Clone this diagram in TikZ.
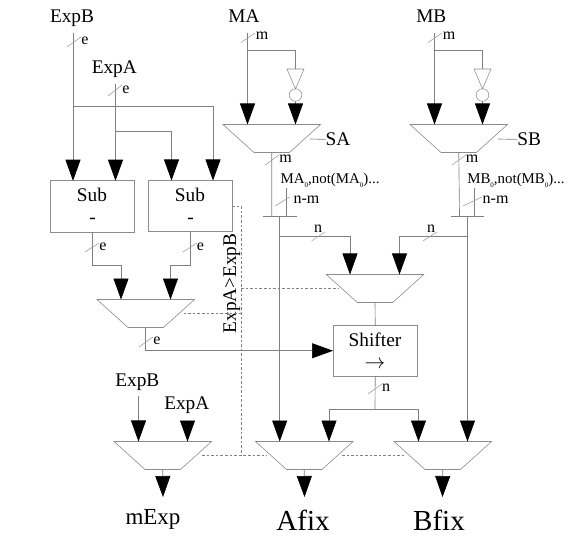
\documentclass[tikz,border=0pt]{standalone}
\usepackage{fontspec}
\setmainfont{Liberation Serif}
\usetikzlibrary{arrows.meta,shapes.geometric}
\newcommand{\fs}[1]{\fontsize{#1}{#1}\selectfont}
\newcommand{\subz}{\raisebox{-4.5pt}{\fs{7}0}}
\tikzset{
  wire/.style={draw=black!50,line width=0.65pt},
  dash wire/.style={draw=black!50,line width=0.6pt,dash pattern=on 2.6pt off 2pt},
  bigarrow/.style={wire,-{Triangle[width=15pt,length=21pt,fill=black,color=black]}},
  tick/.style={draw=black!40,line width=0.55pt},
  muxbox/.style={trapezium,shape border rotate=180,trapezium left angle=48.8,trapezium right angle=48.8,
     trapezium stretches=true,minimum width=97.5pt,minimum height=28pt,inner sep=1pt,outer sep=0pt,draw=black!45,line width=0.6pt},
  blockbox/.style={rectangle,draw=black!45,line width=0.7pt,minimum width=84pt,minimum height=51pt,inner sep=0pt,outer sep=0pt},
  txt/.style={inner sep=0pt,outer sep=0pt,text=black,anchor=base},
  lab/.style={txt,font=\fs{19.3}},
  small/.style={txt,font=\fs{16}},
  note/.style={txt,font=\fs{14.9}},
  big/.style={txt,font=\fs{29}},
  bubble/.style={circle,minimum size=12.5pt,inner sep=0pt,outer sep=0pt,draw=black!45,line width=0.55pt},
  invline/.style={draw=black!45,line width=0.55pt},
}
\begin{document}
\begin{tikzpicture}[x=1pt,y=-1pt]
\useasboundingbox (0,0) rectangle (581,548);
% titles
\node[lab] (tExpB) at (72,22.5) {ExpB};
\node[lab] (tExpA) at (114.3,74) {ExpA};
\node[lab] (tMA) at (244,22.5) {MA};
\node[lab] (tMB) at (431.3,22.5) {MB};
\node[lab] (tExpB2) at (137.3,386) {ExpB};
\node[lab] (tExpA2) at (186.8,409.3) {ExpA};
\node[lab,anchor=base west] (tSA) at (325.7,145.7) {SA};
\node[lab,anchor=base west] (tSB) at (517.3,145.7) {SB};
\node[txt,font=\fs{23}] (tmExp) at (153,524) {mExp};
\node[big] (tAfix) at (303,530.7) {Afix};
\node[big] (tBfix) at (439,530.7) {Bfix};
\node[note,anchor=base west] (tMA0) at (280.7,183.3) {MA\subz,not(MA\subz)...};
\node[note,anchor=base west] (tMB0) at (467.3,183.3) {MB\subz,not(MB\subz)...};
\node[lab,rotate=90] (tExpGt) at (236,283.5) {ExpA>ExpB};
% blocks
\node[blockbox,minimum height=51.5pt] (sub1) at (92,206.5) {};
\node[blockbox,minimum height=51pt] (sub2) at (190,206) {};
\node[blockbox,minimum width=84.5pt,minimum height=50.5pt] (shift) at (375.25,350.75) {};
\node[lab] (sub1a) at (92,201.7) {Sub};
\node[lab] (sub1b) at (92.5,224) {-};
\node[lab] (sub2a) at (190,201.7) {Sub};
\node[lab] (sub2b) at (190.5,224) {-};
\node[lab] (shifta) at (375,346.7) {Shifter};
\node[lab] (shiftb) at (375,368.3) {\smash{$\rightarrow$}};
\node[muxbox] (mSA) at (271.75,138.5) {};
\node[muxbox] (mSB) at (458.75,138.5) {};
\node[muxbox] (mSub) at (145.75,313.5) {};
\node[muxbox] (mCen) at (375,288.5) {};
\node[muxbox] (mExp) at (162.75,455.5) {};
\node[muxbox] (mA) at (304.25,455.5) {};
\node[muxbox] (mB) at (442.75,455.5) {};
\node[bubble] (bubA) at (295.5,95) {};
\node[bubble] (bubB) at (482.5,95) {};
\draw[invline] (287,69) -- (304,69) -- (295.5,89) -- cycle;
\draw[invline] (474,69) -- (491,69) -- (482.5,89) -- cycle;
% free ends
\coordinate (eB) at (73,33);
\coordinate (eA) at (115.5,84);
\coordinate (eMA) at (247.5,33);
\coordinate (eMB) at (434.5,33);
\coordinate (eB2) at (138.5,396);
\coordinate (jB) at (73,106);
\coordinate (jA) at (115.5,131);
\coordinate (jMA) at (247.5,50.5);
\coordinate (jMB) at (434.5,50.5);
\coordinate (triAtop) at (295.5,69);
\coordinate (triBtop) at (482.5,69);
\coordinate (jn) at (375,409);
% exponent inputs
\draw[bigarrow] (eB) -- (eB |- sub1.north);
\draw[bigarrow] (eA) -- (eA |- sub1.north);
\draw[bigarrow] (jA) -| ([xshift=-18.5pt]sub2.north);
\draw[bigarrow] (jB) -| ([xshift=23pt]sub2.north);
% sub outputs
\draw[bigarrow] (sub1.south) |- (121,265) -- (121,299.5);
\draw[bigarrow] (sub2.south) |- (170.5,265) -- (170.5,299.5);
\draw[dash wire] (sub2.east) -- (241,206) -- (241,455);
\draw[dash wire] (183.5,313) -- (241,313);
\draw[dash wire] (241,288) -- (338,288);
\draw[dash wire] (202,455) -- (267,455);
\draw[dash wire] (342,455) -- (406,455);
% to shifter
\draw[bigarrow] (mSub.south) |- (shift.west);
% lower-left mux
\draw[bigarrow] (eB2) -- (eB2 |- mExp.north);
\draw[bigarrow] (187.5,421) -- (187.5,441.5);
\draw[bigarrow] (mExp.south) -- (163,497);
% mantissa A
\draw[bigarrow] (eMA) -- (eMA |- mSA.north);
\draw[wire] (jMA) -| (triAtop);
\draw[bigarrow] (bubA.south) -- (295.5,124.5);
\draw[wire] (310,139) -- (tSA.west);
\draw[wire] (mSA.south) -- (271.7,216);
\draw[wire] (286.7,188) -- (286.7,216);
\draw[wire] (263,216) -- (296.7,216);
% mantissa B
\draw[bigarrow] (eMB) -- (eMB |- mSB.north);
\draw[wire] (jMB) -| (triBtop);
\draw[bigarrow] (bubB.south) -- (482.5,124.5);
\draw[wire] (498,139) -- (tSB.west);
\draw[wire] (mSB.south) -- (459.5,216);
\draw[wire] (474.3,188) -- (474.3,216);
\draw[wire] (451,216) -- (484,216);
% distribution
\draw[bigarrow] (279.7,216) -- (279.7,441.5);
\draw[bigarrow] (467.5,216) -- (467.5,441.5);
\draw[bigarrow] (279.7,236.5) -| (350,274.5);
\draw[bigarrow] (467.5,236.5) -| (399.5,274.5);
\draw[wire] (mCen.south) -- (shift.north);
\draw[wire] (shift.south) -- (jn);
\draw[bigarrow] (jn) -| (329,441.5);
\draw[bigarrow] (jn) -| (418.5,441.5);
\draw[bigarrow] (mA.south) -- (304.5,497);
\draw[bigarrow] (mB.south) -- (442.5,497);
% bus ticks
\draw[tick] (67,47) -- (81,37);
\draw[tick] (108,96) -- (122,85);
\draw[tick] (241,42.5) -- (255,33);
\draw[tick] (428,42.5) -- (442,33);
\draw[tick] (85,252) -- (99,243);
\draw[tick] (183,252) -- (197,243);
\draw[tick] (139,347) -- (153,337);
\draw[tick] (265,165) -- (279,155);
\draw[tick] (452,165) -- (466,155);
\draw[tick] (275,206) -- (290,197);
\draw[tick] (463,206) -- (482,197);
\draw[tick] (311.5,241) -- (325,232);
\draw[tick] (423,241) -- (437,232);
\draw[tick] (368,394) -- (382,384);
% bus labels
\node[small] (e1) at (85,44.7) {e};
\node[small] (e2) at (126,94) {e};
\node[small] (e3) at (103,250.7) {e};
\node[small] (e4) at (200.5,250.7) {e};
\node[small] (e5) at (157,344.3) {e};
\node[small] (m1) at (262,40) {m};
\node[small] (m2) at (449,40) {m};
\node[small] (m3) at (285.7,162.7) {m};
\node[small] (m4) at (472,162.7) {m};
\node[small,anchor=base west] (nm1) at (293.5,204) {n-m};
\node[small,anchor=base west] (nm2) at (482.7,204) {n-m};
\node[small] (n1) at (318,232.3) {n};
\node[small] (n2) at (431,232.3) {n};
\node[small] (n3) at (386,391.7) {n};
\end{tikzpicture}
\end{document}
